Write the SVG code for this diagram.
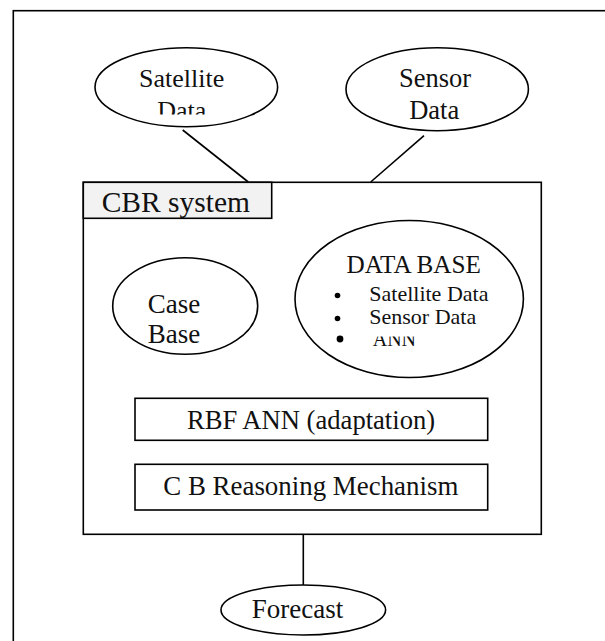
<svg xmlns="http://www.w3.org/2000/svg" width="605" height="641" viewBox="0 0 605 641">
<style>
.ln{fill:none;stroke:#000;stroke-width:1.6}
.sh{fill:#fff;stroke:#000;stroke-width:1.6}
.t{font-family:"Liberation Serif","Times New Roman",serif;fill:#111}
.c{text-anchor:middle}
</style>
<defs>
<clipPath id="clipSat"><rect x="90" y="40" width="200" height="74.5"/></clipPath>
<clipPath id="clipAnn"><rect x="360" y="336.5" width="80" height="20"/></clipPath>
</defs>
<rect id="frame" x="13.3" y="10.7" width="600" height="640" class="ln"/>
<g id="connectors">
<line x1="182.7" y1="130" x2="248.3" y2="182" class="ln"/>
<line x1="424" y1="135.7" x2="370.7" y2="182" class="ln"/>
<line x1="303.3" y1="534.3" x2="303.3" y2="585.5" class="ln"/>
</g>
<g id="satellite">
<ellipse cx="186.3" cy="87.2" rx="91.3" ry="39.5" class="sh"/>
<text x="181.7" y="86.7" font-size="26" class="t c">Satellite</text>
<text x="181.7" y="119" font-size="26" class="t c" clip-path="url(#clipSat)">Data</text>
</g>
<g id="sensor">
<ellipse cx="437.2" cy="89.2" rx="91.2" ry="41.5" class="sh"/>
<text x="435" y="86.7" font-size="26.5" class="t c">Sensor</text>
<text x="434.2" y="119" font-size="26.5" class="t c">Data</text>
</g>
<g id="cbr-system">
<rect x="83.3" y="182.3" width="458" height="352" class="ln"/>
<rect x="83.3" y="182.3" width="188.4" height="36" fill="#f2f2f2" stroke="#000" stroke-width="1.6"/>
<text x="101.7" y="211.7" font-size="29.5" class="t">CBR system</text>
</g>
<g id="case-base">
<ellipse cx="185.2" cy="306" rx="72.5" ry="48.3" class="sh"/>
<text x="147.7" y="312.7" font-size="27" class="t">Case</text>
<text x="147.7" y="342.7" font-size="27" class="t">Base</text>
</g>
<g id="data-base">
<ellipse cx="409.2" cy="299" rx="114.2" ry="78.5" class="sh"/>
<text x="413.7" y="273.3" font-size="25.2" class="t c">DATA BASE</text>
<circle cx="337.5" cy="295.5" r="2.8" fill="#000"/>
<circle cx="337.5" cy="318.5" r="2.8" fill="#000"/>
<circle cx="340" cy="339" r="3.4" fill="#000"/>
<text x="369.3" y="300.7" font-size="22" class="t">Satellite Data</text>
<text x="369.3" y="324" font-size="22" class="t">Sensor Data</text>
<text x="372.7" y="345.7" font-size="20" class="t" clip-path="url(#clipAnn)">ANN</text>
</g>
<g id="rbf-ann">
<rect x="135" y="398.3" width="352.7" height="42" class="sh"/>
<text x="311" y="429.3" font-size="26.6" class="t c">RBF ANN (adaptation)</text>
</g>
<g id="cb-reasoning">
<rect x="135" y="464.3" width="352.7" height="45.7" class="sh"/>
<text x="310.8" y="495" font-size="26.9" class="t c">C B Reasoning Mechanism</text>
</g>
<g id="forecast">
<ellipse cx="303.3" cy="610" rx="82.3" ry="25" class="sh"/>
<text x="297.5" y="618.3" font-size="27" class="t c">Forecast</text>
</g>
</svg>
